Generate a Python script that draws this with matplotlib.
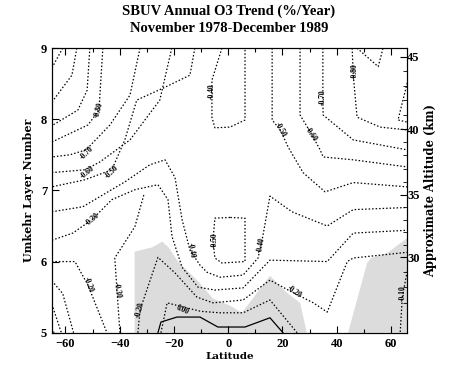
import numpy as np
import matplotlib.pyplot as plt

plt.rcParams['font.family'] = ['Liberation Serif', 'DejaVu Serif']

# trend contours (%/yr): latitude (deg) and Umkehr layer
lvl_m110 = ([-61, -65], [9.0, 8.72])
lvl_m100 = ([-55.8, -57.6, -65], [9.0, 8.62, 8.24])
lvl_m090 = ([-51, -52, -55.4, -65], [9.0, 8.41, 8.13, 7.91])
lvl_m080 = ([-46.2, -47.3, -47.6, -51.7, -65], [9.0, 8.34, 8.13, 7.92, 7.68])
lvl_m070 = ([-32.5, -36.2, -43.6, -52.4, -58.4, -65], [9.0, 8.34, 7.92, 7.57, 7.50, 7.47])
lvl_m060 = ([-20.8, -25.2, -36.2, -47.3, -52.8, -65], [9.0, 8.27, 7.71, 7.40, 7.29, 7.25])
lvl_m050a = ([-12.3, -14.1, -23.3, -33.7, -38.1, -42.9, -52.8, -65],
             [9.0, 8.62, 8.45, 8.27, 7.71, 7.29, 7.15, 7.05])
lvl_m040a = ([-2.3, -6.0, -6.0, -4.9, 0.7, 6.2, 6.2], [9.0, 8.55, 8.03, 7.88, 7.89, 7.99, 9.0])
lvl_m050b = ([16.2, 16.2, 19.2, 22.1, 27.6, 35.7, 46.1, 66],
             [9.0, 7.99, 7.85, 7.61, 7.25, 6.98, 7.11, 7.05])
lvl_m060b = ([26.5, 26.5, 30.6, 33.9, 35.0, 46.1, 66], [9.0, 8.06, 7.80, 7.57, 7.47, 7.43, 7.33])
lvl_m070b = ([34.9, 34.9, 35.0, 46.1, 56.0, 66], [9.0, 8.27, 8.06, 7.71, 7.64, 7.57])
lvl_m080b = ([45.7, 46.1, 47.5, 56.0, 66], [9.0, 8.62, 8.03, 7.89, 7.85])
lvl_m090a = ([47.5, 55.3, 57.1], [9.0, 8.74, 9.0])
lvl_m090b = ([66, 62.6, 66], [8.51, 7.99, 7.96])
lvl_m050c = ([0.7, -4.9, -5.6, -4.9, -2.3, 6.2, 6.2, 0.7],
             [6.62, 6.61, 6.30, 6.05, 5.98, 6.00, 6.61, 6.62])
lvl_m040b = ([-65, -53.6, -49.2, -38.1, -28.9, -23.3, -19.6, -17.0, -14.1, -10.4, -7.8, -3.0,
              5.5, 11.0, 12.5, 15.4, 23.5, 36.5, 46.1, 66],
             [6.70, 6.77, 6.87, 7.12, 7.36, 7.43, 7.18, 6.59, 6.16, 5.95, 5.85, 5.78,
              5.81, 6.05, 6.30, 6.92, 6.70, 6.50, 6.73, 6.76])
lvl_m030a = ([-65, -57.3, -50.2, -42.9, -34.4, -25.9, -22.2, -20.7, -17.0, -11.1, -4.9, 5.5,
              15.4, 36.5, 46.1, 66],
             [6.30, 6.40, 6.59, 6.87, 7.01, 7.08, 6.87, 6.35, 5.92, 5.64, 5.60, 5.63,
              6.02, 6.00, 6.40, 6.44])
lvl_m030b = ([-39.9, -41.0, -41.8, -34.4, -31.0], [5.0, 5.60, 6.05, 6.49, 6.95])
lvl_m020a = ([-65, -56.5, -51.7, -44.7], [6.0, 6.0, 5.67, 5.0])
lvl_m020b = ([-33.3, -32.5, -25.9, -19.6, -11.5, -5.6, 5.5, 15.4, 22.1, 31.4, 36.5, 43.9, 46.1, 66],
             [5.0, 5.32, 6.06, 5.84, 5.50, 5.42, 5.46, 5.74, 5.60, 5.42, 5.29, 6.00, 6.05, 6.13])
lvl_m010a = ([-24.8, -22.5, -16.5, -10.0, -3.0, 5.5, 15.4, 25.4],
             [5.0, 5.42, 5.36, 5.30, 5.28, 5.28, 5.46, 5.0])
lvl_m010b = ([66, 64.2, 63.4], [5.86, 5.51, 5.0])
lvl_m030c = ([-65, -61.0, -57.0], [5.73, 5.55, 5.0])
lvl_m040c = ([-65, -61.5], [5.40, 5.0])
lvl_m050d = ([-65, -64.2], [5.06, 5.0])
lvl_000 = ([-25.9, -24.8, -18.9, -10.4, -3.8, 6.2, 15.4, 20.2],
           [5.0, 5.15, 5.22, 5.22, 5.08, 5.08, 5.21, 5.0])

dotted_lines = [lvl_m110, lvl_m100, lvl_m090, lvl_m080, lvl_m070, lvl_m060, lvl_m050a, lvl_m040a,
                lvl_m050b, lvl_m060b, lvl_m070b, lvl_m080b, lvl_m090a, lvl_m090b, lvl_m050c,
                lvl_m040b, lvl_m030a, lvl_m030b, lvl_m020a, lvl_m020b, lvl_m010a, lvl_m010b,
                lvl_m030c, lvl_m040c, lvl_m050d]
solid_lines = [lvl_000]

# contour labels: (lat, layer, text, angle)
labels = [(-47.6, 8.13, '-0.80', 75), (-52.0, 7.53, '-0.70', 45), (-51.7, 7.26, '-0.60', 40),
          (-42.9, 7.26, '-0.50', 45), (-6.0, 8.39, '-0.40', 90), (19.2, 7.85, '-0.50', -60),
          (30.6, 7.79, '-0.60', -55), (35.0, 8.31, '-0.70', 90), (46.5, 8.67, '-0.80', 90),
          (-50.2, 6.59, '-0.30', 40), (-51.7, 5.67, '-0.20', -70), (-41.0, 5.60, '-0.30', -80),
          (-13.7, 6.16, '-0.40', -80), (-4.9, 6.30, '-0.50', 90), (12.1, 6.23, '-0.40', 80),
          (-32.5, 5.32, '-0.20', 75), (-16.7, 5.32, '0.00', -25), (24.2, 5.57, '-0.20', -35),
          (64.2, 5.55, '-0.10', 90)]

# grey shading (trend not significant)
grey_left_lat = [-34.5, -34.5, -28.0, -24.3, -22.0, -18.5, -11.0, -5.6, 0.7, 5.1, 15.4, 21.7, 26.5, 29.0]
grey_left_lay = [5.0, 6.14, 6.20, 6.28, 6.20, 6.0, 5.72, 5.48, 5.38, 5.28, 5.80, 5.56, 5.42, 5.0]
grey_right_lat = [44.2, 51.2, 52.7, 58.6, 66, 66]
grey_right_lay = [5.0, 5.98, 6.05, 6.12, 6.33, 5.0]

# altitude (km) vs Umkehr layer for the right axis
alt_km = [25, 30, 35, 40, 45, 50]
alt_layer = [5.0, 6.06, 6.94, 7.86, 8.88, 9.9]

fig, ax = plt.subplots(figsize=(4.55, 3.73), dpi=100)
fig.subplots_adjust(left=0.114, right=0.895, bottom=0.108, top=0.871)

ax.fill(grey_left_lat, grey_left_lay, color='#dcdcdc', lw=0, zorder=1)
ax.fill(grey_right_lat, grey_right_lay, color='#dcdcdc', lw=0, zorder=1)

for lat, lay in dotted_lines:
    ax.plot(lat, lay, color='k', lw=0.9, ls=(0, (1.2, 1.6)), zorder=2)
for lat, lay in solid_lines:
    ax.plot(lat, lay, color='k', lw=0.9, zorder=2)

for la, ly, txt, ang in labels:
    ax.text(la, ly, txt, fontsize=5.5, fontweight='bold', rotation=ang, ha='center', va='center',
            zorder=3)

ax.set_xlim(-65, 66)
ax.set_ylim(5, 9)
ax.set_xticks([-60, -40, -20, 0, 20, 40, 60])
ax.set_xticks(np.arange(-60, 66, 10), minor=True)
ax.set_yticks([5, 6, 7, 8, 9])
ax.tick_params(which='both', direction='in', top=True, labelsize=9, width=0.8)
ax.tick_params(which='major', length=5)
ax.tick_params(which='minor', length=3)
for lab in ax.get_xticklabels() + ax.get_yticklabels():
    lab.set_fontweight('bold')
ax.set_xlabel('Latitude', fontsize=7.5, fontweight='bold', family='DejaVu Serif', labelpad=2)
ax.set_ylabel('Umkehr Layer Number', fontsize=8, fontweight='bold', family='DejaVu Serif',
              labelpad=5)

ax2 = ax.twinx()
ax2.set_ylim(5, 9)
ax2.set_yticks(np.interp([30, 35, 40, 45], alt_km, alt_layer))
ax2.set_yticklabels(['30', '35', '40', '45'], fontweight='bold')
ax2.set_yticks(np.interp(np.arange(27, 46, 1), alt_km, alt_layer), minor=True)
ax2.tick_params(which='both', direction='in', labelsize=9, pad=0)
ax2.tick_params(which='major', length=5)
ax2.tick_params(which='minor', length=3)
ax2.set_ylabel('Approximate Altitude (km)', fontsize=8.3, fontweight='bold', family='DejaVu Serif',
               labelpad=3)

fig.text(0.503, 1 - 11 / 373, 'SBUV Annual O3 Trend (%/Year)', ha='center', va='center',
         fontsize=10.5, fontweight='bold')
fig.text(0.503, 1 - 29 / 373, 'November 1978-December 1989', ha='center', va='center',
         fontsize=10.5, fontweight='bold')

fig.savefig('out.png', dpi=100)
